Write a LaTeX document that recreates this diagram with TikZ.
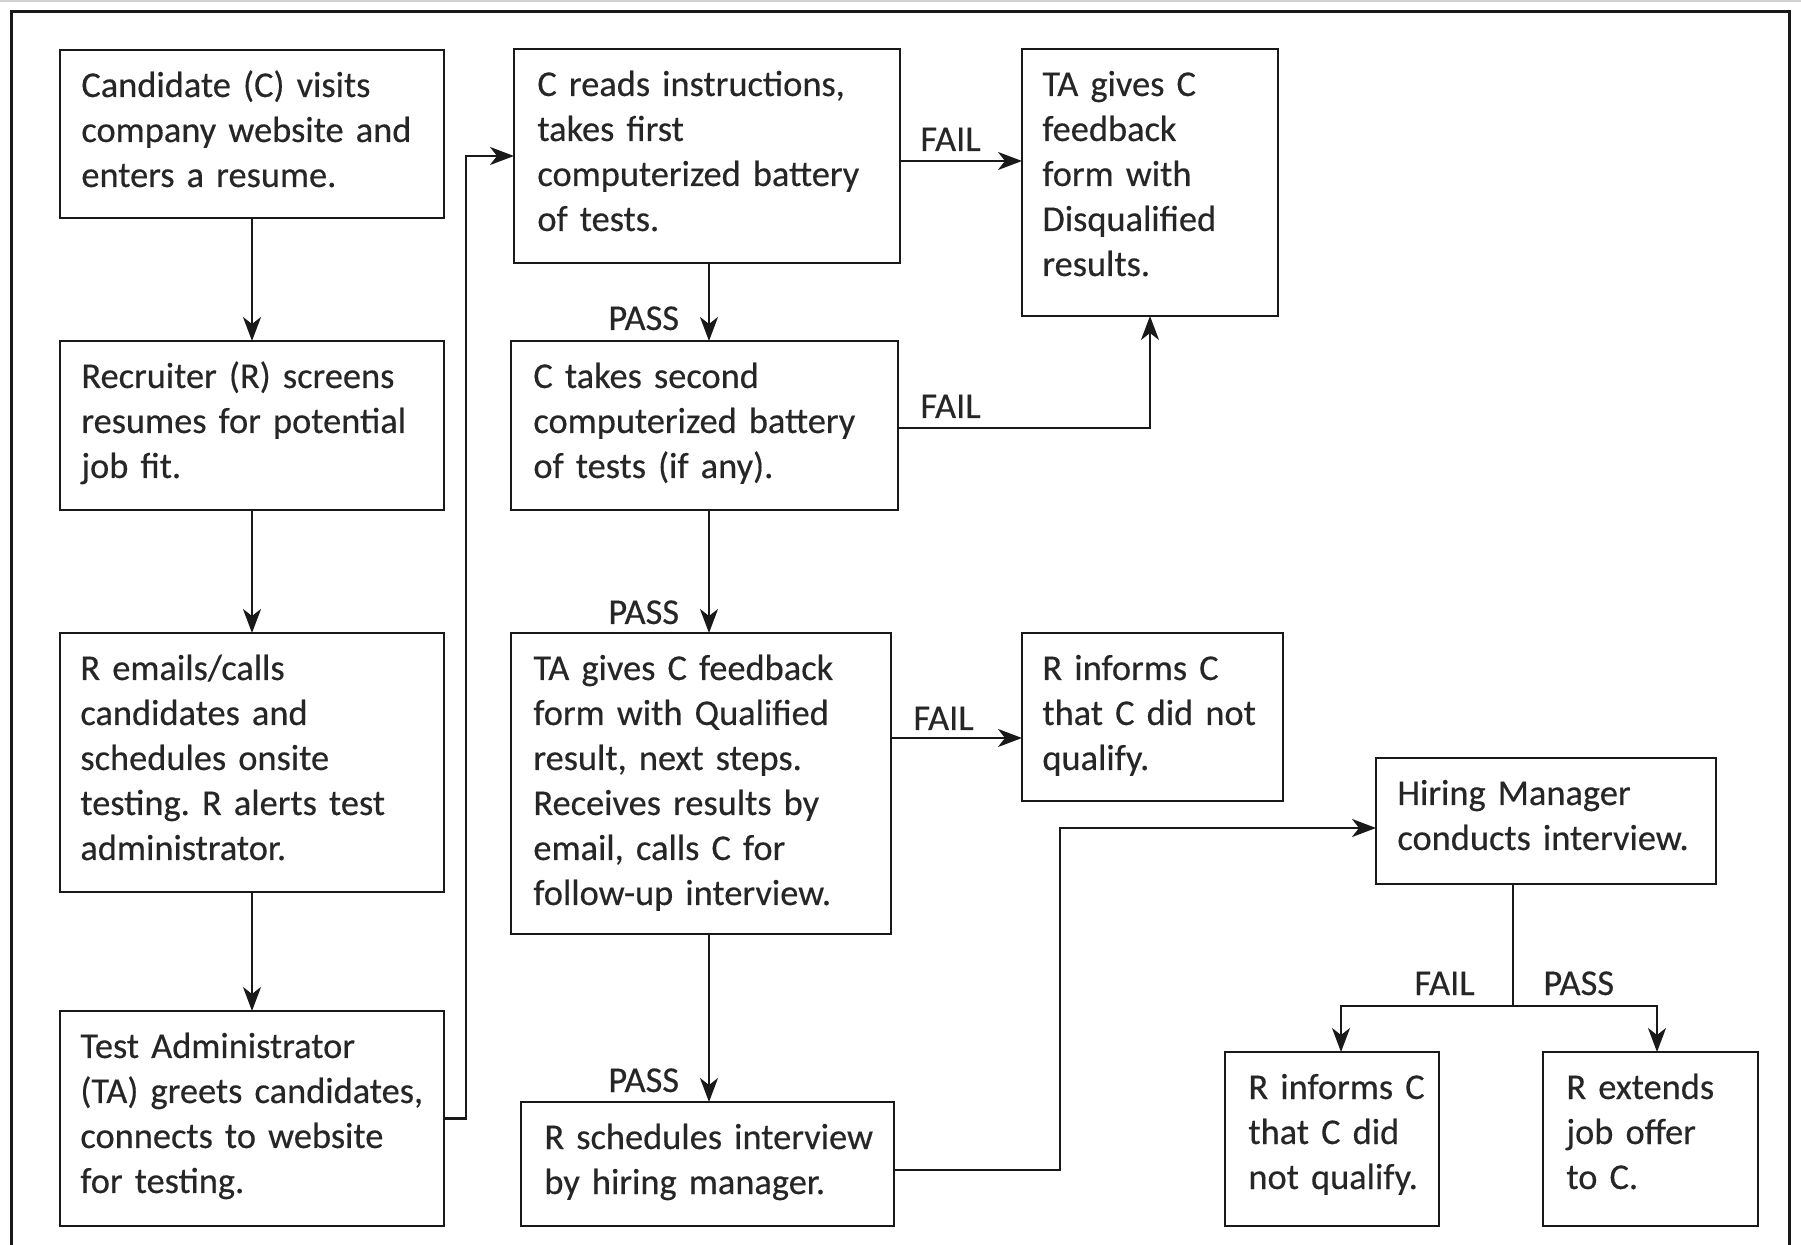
\documentclass[tikz,border=0pt]{standalone}
\usepackage{fontspec}
\setmainfont{Carlito}[WordSpace=0.85,FakeBold=0.35]
\frenchspacing
\usetikzlibrary{arrows.meta,calc}

\tikzset{
  flow/.style={draw=black!90, line width=1.3pt, rectangle, inner sep=0pt,
    outer sep=0pt, anchor=north west},
  flowtext/.style={anchor=base west, inner sep=0pt, text width=200pt,
    align=left, font=\fontsize{18.2pt}{22.5pt}\selectfont, text=black!85},
  lbl/.style={anchor=base west, inner sep=0pt,
    font=\fontsize{18.2pt}{22.5pt}\selectfont, text=black!85},
  arr/.style={draw=black!90, line width=1.1pt,
    -{Stealth[length=12pt,width=9pt,inset=3.5pt]}},
  link/.style={draw=black!90, line width=1.1pt},
}

% name, left, top, right, bottom, text indent, text
\newcommand{\flowbox}[7]{%
  \node[flow, minimum width={(#4-#2)*0.5pt}, minimum height={(#5-#3)*0.5pt}]
    (#1) at (#2,#3) {};
  \node[flowtext] (#1-t) at ($(#1.north west)+(#6,47)$) {#7};
}

\begin{document}
\begin{tikzpicture}[x=0.5pt,y=-0.5pt]
  \useasboundingbox (0,0) rectangle (1801,1245);
  \fill[white] (0,0) rectangle (1801,1245);

  % outer frame
  \draw[gray!35, line width=1pt] (0,1) -- (1801,1);
  \draw[black!90, line width=1.5pt] (11,1270) |- (1789,12) -- (1789,1270);

  % left column
  \flowbox{b1}{60}{50}{444}{218}{21}{Candidate (C) visits\\company website and\\enters a resume.}
  \flowbox{b2}{60}{341}{444}{510}{21}{Recruiter (R) screens\\resumes for potential\\job fit.}
  \flowbox{b3}{60}{633}{444}{892}{20}{R emails/calls\\candidates and\\schedules onsite\\testing. R alerts test\\administrator.}
  \flowbox{b4}{60}{1011}{444}{1226}{20}{Test Administrator\\(TA) greets candidates,\\connects to website\\for testing.}

  % middle column
  \flowbox{b5}{514}{49}{900}{263}{23}{C reads instructions,\\takes first\\computerized battery\\of tests.}
  \flowbox{b6}{511}{341}{898}{510}{22}{C takes second\\computerized battery\\of tests (if any).}
  \flowbox{b7}{511}{633}{891}{934}{22}{TA gives C feedback\\form with Qualified\\result, next steps.\\Receives results by\\email, calls C for\\follow-up interview.}
  \flowbox{b8}{521}{1102}{894}{1226}{23}{R schedules interview\\by hiring manager.}

  % right columns
  \flowbox{b9}{1022}{49}{1278}{316}{20}{TA gives C\\feedback\\form with\\Disqualified\\results.}
  \flowbox{b10}{1022}{633}{1283}{801}{20}{R informs C\\that C did not\\qualify.}
  \flowbox{b11}{1376}{758}{1716}{884}{21}{Hiring Manager\\conducts interview.}
  \flowbox{b12}{1225}{1052}{1439}{1226}{23}{R informs C\\that C did\\not qualify.}
  \flowbox{b13}{1543}{1052}{1758}{1226}{23}{R extends\\job offer\\to C.}

  % routing coordinates
  \coordinate (j1) at (466,0);
  \coordinate (c2) at (709,0);
  \coordinate (r1) at (0,161);
  \coordinate (r2) at (0,428);
  \coordinate (r3) at (0,738);
  \coordinate (r4) at (0,1170);
  \coordinate (r5) at (0,828);
  \coordinate (j2) at (1060,0);
  \coordinate (split) at (1513,1006);
  \coordinate (c12) at (1341,0);
  \coordinate (c13) at (1657,0);

  % left column chain
  \draw[arr] (b1.south) -- (b2.north);
  \draw[arr] (b2.south) -- (b3.north);
  \draw[arr] (b3.south) -- (b4.north);
  \draw[arr] (b4.east) -- (b4.east -| j1) |- (b5.west);

  % test batteries
  \draw[arr] (b5.east |- r1) -- (b9.west |- r1);
  \draw[arr] (b5.south -| c2) -- (b6.north -| c2);
  \draw[arr] (b6.east |- r2) -| (b9.south);
  \draw[arr] (b6.south -| c2) -- (b7.north -| c2);
  \draw[arr] (b7.east |- r3) -- (b10.west |- r3);
  \draw[arr] (b7.south -| c2) -- (b8.north -| c2);

  % interview
  \draw[arr] (b8.east |- r4) -| (j2 |- r5) -- (b11.west |- r5);
  \draw[link] (b11.south -| split) -- (split);
  \draw[arr] (split) -| (b12.north -| c12);
  \draw[arr] (split) -| (b13.north -| c13);

  % outcome labels
  \node[lbl] (l1) at (920,151) {FAIL};
  \node[lbl] (l2) at (920,418) {FAIL};
  \node[lbl] (l3) at (913,730) {FAIL};
  \node[lbl] (l4) at (608,330) {PASS};
  \node[lbl] (l5) at (608,624) {PASS};
  \node[lbl] (l6) at (608,1092) {PASS};
  \node[lbl] (l7) at (1414,995) {FAIL};
  \node[lbl] (l8) at (1543,995) {PASS};
\end{tikzpicture}
\end{document}
